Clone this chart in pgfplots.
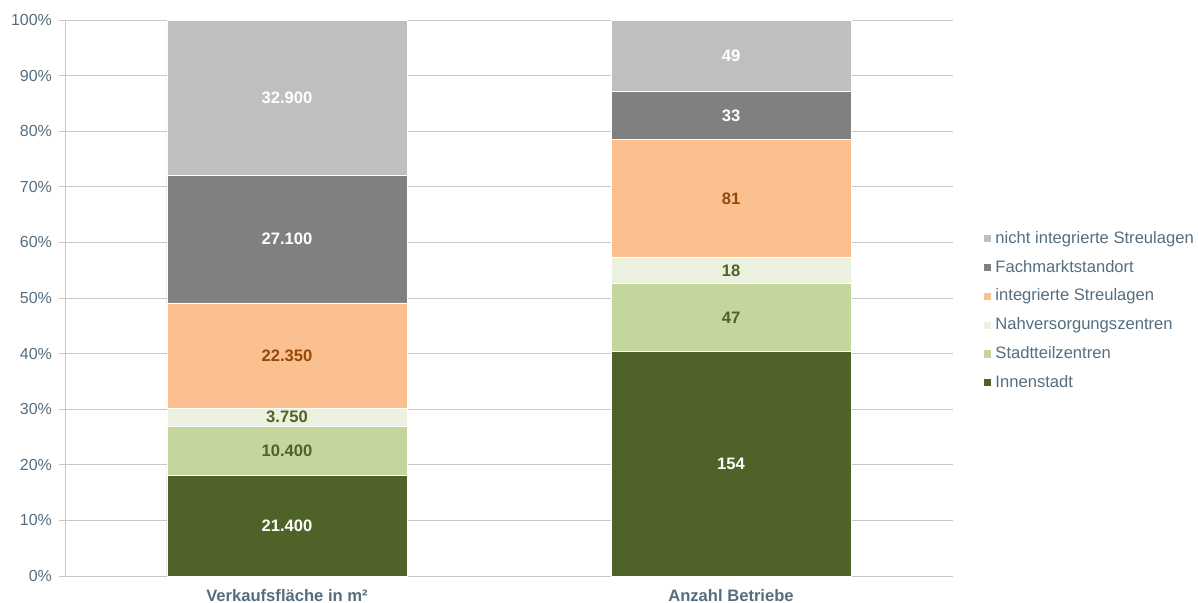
\documentclass[border=0pt]{standalone}
\usepackage{fontspec}
\setmainfont{Liberation Sans}
\usepackage{pgfplots}
\pgfplotsset{compat=1.18}
\definecolor{innen}{HTML}{4F6228}
\definecolor{stadtteil}{HTML}{C3D69B}
\definecolor{nahv}{HTML}{EBF1DE}
\definecolor{integr}{HTML}{FAC090}
\definecolor{fachm}{HTML}{808080}
\definecolor{nichtint}{HTML}{BFBFBF}
\definecolor{axtext}{RGB}{84,110,128}
\definecolor{gridc}{HTML}{C8C8C8}
\definecolor{orangetxt}{HTML}{984807}
\begin{document}
\begin{tikzpicture}
\begin{axis}[
  at={(0,0)}, anchor=south west,
  scale only axis, width=444pt, height=278pt,
  ybar stacked, bar width=120pt,
  xmin=-0.5, xmax=1.5, ymin=0, ymax=100,
  axis x line*=bottom, axis y line*=left,
  axis line style={draw=gridc},
  xtick={0,1},
  xticklabels={Verkaufsfläche in m², Anzahl Betriebe},
  xticklabel style={font=\bfseries\fontsize{8.3}{10}\selectfont, text=axtext},
  x tick style={draw=none},
  extra x ticks={-0.5,0.5,1.5}, extra x tick labels={},
  extra x tick style={tick style={draw=gridc, thin}, major tick length=3pt, tick align=outside},
  ytick={0,10,...,100},
  yticklabel={\pgfmathprintnumber{\tick}\%},
  yticklabel style={font=\fontsize{8}{10}\selectfont, text=axtext},
  y tick style={draw=gridc, thin}, tick align=outside, major tick length=3pt,
  /pgf/number format/assume math mode=true,
  ymajorgrids, major grid style={draw=gridc, thin},
  nodes near coords,
  point meta=explicit symbolic,
  every node near coord/.append style={anchor=center,
    font=\bfseries\fontsize{8.3}{10}\selectfont},
  legend image code/.code={\path[#1,draw=none] (0pt,-1.8pt) rectangle (3.6pt,1.8pt);},
  reverse legend,
  legend cell align=left,
  legend style={draw=none, fill=none, at={(1.028,0.477)}, anchor=west,
    font=\fontsize{8.3}{10}\selectfont, text=axtext, row sep=2.9pt},
]
% shares in percent; labels are the absolute values
\addplot[fill=innen, draw=white, every node near coord/.append style={text=white}]
  coordinates {(0,18.151) [21.400] (1,40.314) [154]};
\addplot[fill=stadtteil, draw=white, every node near coord/.append style={text=innen}]
  coordinates {(0,8.821) [10.400] (1,12.304) [47]};
\addplot[fill=nahv, draw=white, every node near coord/.append style={text=innen}]
  coordinates {(0,3.181) [3.750] (1,4.712) [18]};
\addplot[fill=integr, draw=white, every node near coord/.append style={text=orangetxt}]
  coordinates {(0,18.957) [22.350] (1,21.204) [81]};
\addplot[fill=fachm, draw=white, every node near coord/.append style={text=white}]
  coordinates {(0,22.986) [27.100] (1,8.639) [33]};
\addplot[fill=nichtint, draw=white, every node near coord/.append style={text=white}]
  coordinates {(0,27.904) [32.900] (1,12.827) [49]};
\legend{Innenstadt, Stadtteilzentren, Nahversorgungszentren, integrierte Streulagen, Fachmarktstandort, nicht integrierte Streulagen}
\end{axis}
\pgfresetboundingbox
\path[use as bounding box] (-32.5pt,-13pt) rectangle (566.5pt,288pt);
\end{tikzpicture}
\end{document}
